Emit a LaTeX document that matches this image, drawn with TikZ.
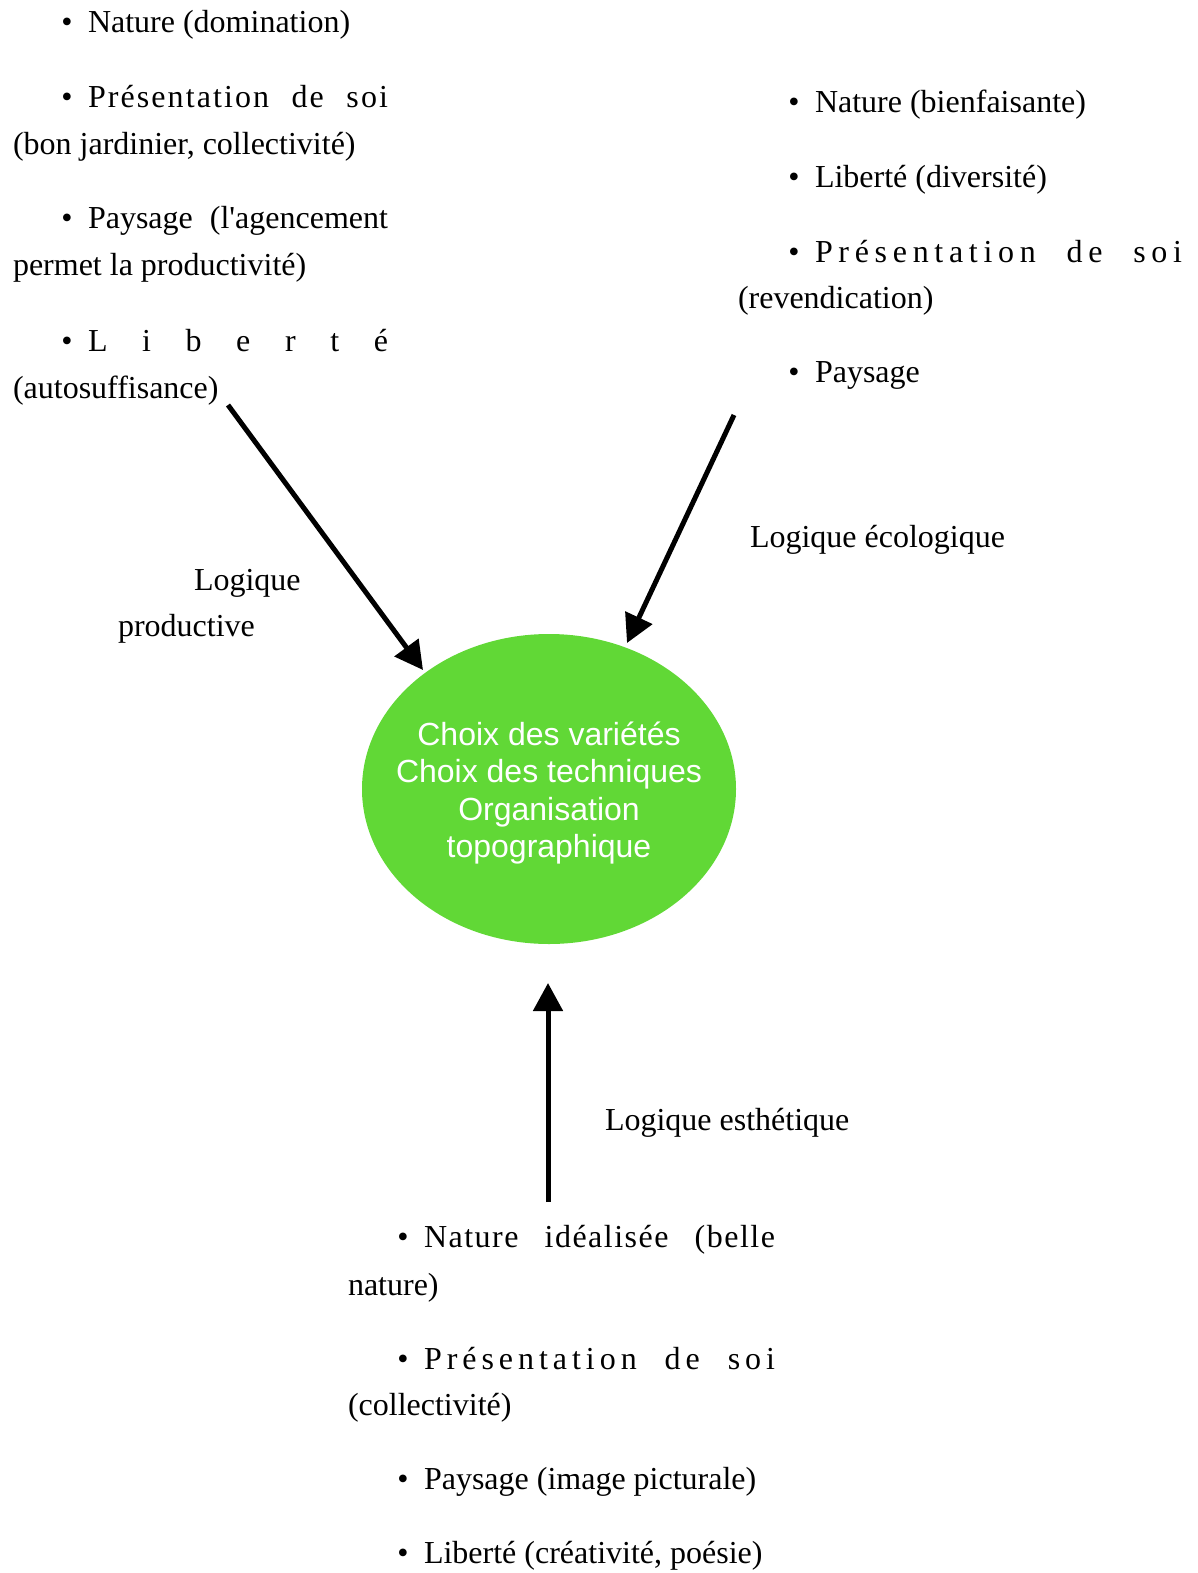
\documentclass[tikz,border=0pt]{standalone}
\usepackage{fontspec}
\setmainfont{Liberation Serif}
\setsansfont{Liberation Sans}
\usetikzlibrary{arrows.meta,shapes.geometric}
\definecolor{leaf}{RGB}{97,216,54}
\makeatletter
\def\ltrs#1{\ltrs@#1\@nil}
\def\ltrs@#1#2\@nil{#1\ifx\relax#2\relax\else\hskip0pt plus 1fil\relax\ltrs@#2\@nil\fi}
\makeatother
\newcommand\wg[1]{\hskip .25em plus #1fil\relax}
\tikzset{
  txt/.style={anchor=base west, inner sep=0pt, outer sep=0pt},
  bul/.style={anchor=base, inner sep=0pt, outer sep=0pt},
  arr/.style={line width=5pt, -{Triangle[length=28pt,width=29pt]}},
  core/.style={ellipse, fill=leaf, draw=none, minimum width=374pt, minimum height=310pt,
    inner sep=0pt},
  coretext/.style={inner sep=0pt, align=center, text=white,
    font=\sffamily\fontsize{32}{37.5}\selectfont}
}
\begin{document}
\begin{tikzpicture}[x=1pt,y=-1pt,font=\fontsize{32}{38}\selectfont]
\useasboundingbox (0,0) rectangle (1197,1573);
% left column
\node[bul] (lb1) at (67,33) {•};
\node[txt] (l1) at (88,33) {Nature (domination)};
\node[bul] (lb2) at (67,108) {•};
\node[txt] (l2) at (88,108) {\hbox to 300pt{\ltrs{Présentation}\wg{7}\ltrs{de}\wg{7}\ltrs{soi}}};
\node[txt] (l3) at (13,155) {(bon jardinier, collectivité)};
\node[bul] (lb4) at (67,228) {•};
\node[txt] (l4) at (88,228) {\hbox to 300pt{Paysage\wg{1}(l\textquotesingle agencement}};
\node[txt] (l5) at (13,275) {permet la productivité)};
\node[bul] (lb6) at (67,351) {•};
\node[txt] (l6) at (88,351) {\hbox to 300pt{\ltrs{Liberté}}};
\node[txt] (l7) at (13,398) {(autosuffisance)};
% right column
\node[bul] (rb1) at (794,113) {•};
\node[txt] (r1) at (815,113) {Nature (bienfaisante)};
\node[bul] (rb2) at (794,188) {•};
\node[txt] (r2) at (815,188) {Liberté (diversité)};
\node[bul] (rb3) at (794,262) {•};
\node[txt] (r3) at (815,262) {\hbox to 367pt{\ltrs{Présentation}\wg{4}\ltrs{de}\wg{4}\ltrs{soi}}};
\node[txt] (r4) at (738,308) {(revendication)};
\node[bul] (rb5) at (794,382) {•};
\node[txt] (r5) at (815,382) {Paysage};
% bottom column
\node[bul] (bb1) at (403,1247) {•};
\node[txt] (b1) at (424,1247) {\hbox to 351pt{\ltrs{Nature}\wg{12}\ltrs{idéalisée}\wg{12}\ltrs{(belle}}};
\node[txt] (b2) at (348,1295) {nature)};
\node[bul] (bb3) at (403,1369) {•};
\node[txt] (b3) at (424,1369) {\hbox to 351pt{\ltrs{Présentation}\wg{4}\ltrs{de}\wg{4}\ltrs{soi}}};
\node[txt] (b4) at (348,1415) {(collectivité)};
\node[bul] (bb5) at (403,1489) {•};
\node[txt] (b5) at (424,1489) {Paysage (image picturale)};
\node[bul] (bb6) at (403,1563) {•};
\node[txt] (b6) at (424,1563) {Liberté (créativité, poésie)};
% labels
\node[txt] (lp1) at (194,590) {Logique};
\node[txt] (lp2) at (118,636) {productive};
\node[txt] (le) at (750,547) {Logique écologique};
\node[txt] (la) at (605,1130) {Logique esthétique};
% centre
\node[core] (c) at (549,789) {};
\node[coretext] (ct) at (549,793) {Choix des variétés\\Choix des techniques\\Organisation\\topographique};
% arrows
\coordinate (s1) at (228,405);
\coordinate (e1) at (423,670);
\coordinate (s2) at (734,415);
\coordinate (e2) at (627,643);
\coordinate (s3) at (548,1202);
\coordinate (e3) at (548,983);
\draw[arr] (s1) -- (e1);
\draw[arr] (s2) -- (e2);
\draw[arr] (s3) -- (e3);
\end{tikzpicture}
\end{document}
